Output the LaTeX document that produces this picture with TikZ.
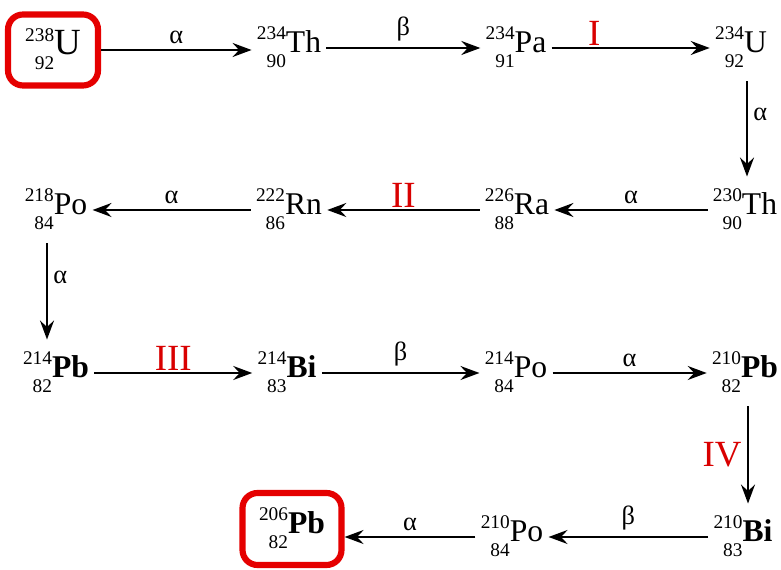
\documentclass[tikz,border=0pt]{standalone}
\usepackage{fontspec}
\setmainfont{Liberation Serif}
\usetikzlibrary{arrows.meta}

\newcommand{\iso}[3]{{\fontsize{11}{16}\selectfont\begin{tabular}{@{}r@{}}#1\\#2\end{tabular}}#3}

\begin{document}
\begin{tikzpicture}[
  x=0.02cm,
  y=-0.02cm,
  nuclide/.style={inner sep=0.1cm, font=\fontsize{18}{20}\selectfont},
  boxed/.style={draw=red!90!black, line width=3.5pt, rounded corners=0.3cm, minimum width=1.8cm, minimum height=1.42cm},
  decay/.style={draw, line width=1.3pt, -{Stealth[length=0.38cm, width=0.28cm, inset=0.13cm]}},
  ray/.style={font=\fontsize{15}{16}\selectfont, inner sep=3pt},
  roman/.style={font=\fontsize{21}{22}\selectfont, text=red!85!black, inner sep=1pt}
]
\useasboundingbox (0,0) rectangle (781,570);
% row 1
\node[nuclide, boxed, font=\fontsize{21}{22}\selectfont] (u238) at (53,50) {\iso{238}{92}{U}};
\node[nuclide] (th234) at (289,48) {\iso{234}{90}{Th}};
\node[nuclide] (pa234) at (516,48) {\iso{234}{91}{Pa}};
\node[nuclide] (u234) at (741,48) {\iso{234}{92}{U}};
% row 2
\node[nuclide] (th230) at (745,210) {\iso{230}{90}{Th}};
\node[nuclide] (ra226) at (517,210) {\iso{226}{88}{Ra}};
\node[nuclide] (rn222) at (289,210) {\iso{222}{86}{Rn}};
\node[nuclide] (po218) at (56,210) {\iso{218}{84}{Po}};
% row 3
\node[nuclide] (pb214) at (56,373) {\iso{214}{82}{\textbf{Pb}}};
\node[nuclide] (bi214) at (287,373) {\iso{214}{83}{\textbf{Bi}}};
\node[nuclide] (po214) at (516,373) {\iso{214}{84}{Po}};
\node[nuclide] (pb210) at (745,373) {\iso{210}{82}{\textbf{Pb}}};
% row 4
\node[nuclide] (bi210) at (743,537) {\iso{210}{83}{\textbf{Bi}}};
\node[nuclide] (po210) at (512,537) {\iso{210}{84}{Po}};
\node[nuclide, boxed, minimum width=1.98cm, minimum height=1.44cm] (pb206) at (292,529) {\iso{206}{82}{\textbf{Pb}}};

\draw[decay] (u238) -- node[ray, above] {α} (u238 -| th234.west);
\draw[decay] (th234) -- node[ray, above] {β} (pa234);
\draw[decay] (pa234) -- node[roman, above, pos=0.27] {I} (u234);
\draw[decay] ([xshift=0.12cm]u234.south) -- node[ray, right, pos=0.35] {α} ([xshift=0.12cm]u234.south |- th230.north);
\draw[decay] (th230) -- node[ray, above] {α} (ra226);
\draw[decay] (ra226) -- node[roman, above] {II} (rn222);
\draw[decay] (rn222) -- node[ray, above] {α} (po218);
\draw[decay] ([xshift=-0.18cm]po218.south) -- node[ray, right, pos=0.35] {α} ([xshift=-0.18cm]pb214.north);
\draw[decay] (pb214) -- node[roman, above] {III} (bi214);
\draw[decay] (bi214) -- node[ray, above] {β} (po214);
\draw[decay] (po214) -- node[ray, above] {α} (pb210);
\draw[decay] ([xshift=0.06cm]pb210.south) -- node[roman, left, inner sep=3pt] {IV} ([xshift=0.06cm]pb210.south |- bi210.north);
\draw[decay] (bi210) -- node[ray, above] {β} (po210);
\draw[decay] (po210) -- node[ray, above] {α} (po210 -| pb206.east);
\end{tikzpicture}
\end{document}
